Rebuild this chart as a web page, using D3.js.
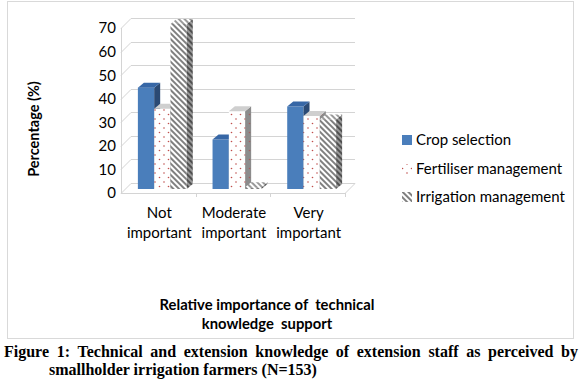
<!DOCTYPE html>
<html>
<head>
<meta charset="utf-8">
<script src="https://cdn.jsdelivr.net/npm/d3@7"></script>
<style>
  html, body { margin: 0; padding: 0; background: #fff; }
  svg { display: block; }
</style>
</head>
<body>
<svg id="chart" width="580" height="389"></svg>
<script>
// ---- data ----
const categories = ["Not important", "Moderate important", "Very important"];
const categoryLines = [["Not", "important"], ["Moderate", "important"], ["Very", "important"]];
const seriesNames = ["Crop selection", "Fertiliser management", "Irrigation management"];
const cropSelection = [43, 21, 35];
const fertiliserManagement = [34, 33, 31];
const irrigationManagement = [70, 0.7, 29.5];
const yTicks = [0, 10, 20, 30, 40, 50, 60, 70];
const yTitle = "Percentage (%)";
const xTitleLines = ["Relative importance of  technical", "knowledge  support"];
const captionLine1 = "Figure 1: Technical and extension knowledge of extension staff as perceived by";
const captionLine2 = "smallholder irrigation farmers (N=153)";

const seriesValues = [cropSelection, fertiliserManagement, irrigationManagement];

const svg = d3.select("#chart");
const FONT = "Lato, 'Open Sans', sans-serif";

// ---- defs: patterns ----
const defs = svg.append("defs");
function dotPattern(id, bg, dot) {
  const p = defs.append("pattern").attr("id", id).attr("patternUnits", "userSpaceOnUse")
    .attr("width", 9).attr("height", 9);
  p.append("rect").attr("width", 9).attr("height", 9).attr("fill", bg);
  p.append("circle").attr("cx", 2).attr("cy", 2).attr("r", 0.8).attr("fill", dot);
  p.append("circle").attr("cx", 6.5).attr("cy", 6.5).attr("r", 0.8).attr("fill", dot);
}
function hatchPattern(id, bg, line) {
  const p = defs.append("pattern").attr("id", id).attr("patternUnits", "userSpaceOnUse")
    .attr("width", 4).attr("height", 4).attr("patternTransform", "rotate(-45)");
  p.append("rect").attr("width", 4).attr("height", 4).attr("fill", bg);
  p.append("rect").attr("width", 2).attr("height", 4).attr("fill", line);
}
dotPattern("dotsFront", "#ffffff", "#c0504d");
dotPattern("dotsSide", "#8c8c8c", "#a86060");
hatchPattern("hatchFront", "#ffffff", "#808080");
hatchPattern("hatchSide", "#9a9a9a", "#505050");
hatchPattern("hatchTop", "#ffffff", "#9a9a9a");

const styles = [
  { front: "#4a7ebb", side: "#2b4a74", top: "#3767a6" },
  { front: "url(#dotsFront)", side: "url(#dotsSide)", top: "#cfcfcf" },
  { front: "url(#hatchFront)", side: "url(#hatchSide)", top: "url(#hatchTop)" }
];

// ---- chart border ----
svg.append("rect").attr("x", 7.5).attr("y", 1.5).attr("width", 566).attr("height", 337)
  .attr("fill", "#fff").attr("stroke", "#d9d9d9").attr("stroke-width", 1);

// ---- scales ----
const x = d3.scaleBand().domain(categories).range([121, 345]).paddingInner(0).paddingOuter(0);
const bw = x.bandwidth();
const groupW = bw * 0.655;
const xs = d3.scaleBand().domain(seriesNames).range([(bw - groupW) / 2, (bw + groupW) / 2]).padding(0);
const y = d3.scaleLinear().domain([0, 70]).range([193, 28]);

// 3D offsets
const WDX = 10, WDY = -10;   // wall depth
const FDX = 4, FDY = -4;     // bar front face offset
const BDX = 6, BDY = -5;     // bar depth

const grid = svg.append("g").attr("stroke", "#d4d4d4").attr("stroke-width", 1).attr("fill", "none");
const [x0, x1] = x.range();
yTicks.forEach(t => {
  const yy = Math.round(y(t)) + 0.5;
  grid.append("line").attr("x1", x0 + WDX).attr("x2", x1 + WDX).attr("y1", yy + WDY).attr("y2", yy + WDY);
  grid.append("line").attr("x1", x0).attr("x2", x0 + WDX).attr("y1", yy).attr("y2", yy + WDY);
});
// left front edge & floor
grid.append("line").attr("x1", x0 + 0.5).attr("x2", x0 + 0.5).attr("y1", y(70)).attr("y2", y(0));
grid.append("line").attr("x1", x0).attr("x2", x1).attr("y1", y(0) + 0.5).attr("y2", y(0) + 0.5);
grid.append("line").attr("x1", x1).attr("x2", x1 + WDX).attr("y1", y(0) + 0.5).attr("y2", y(0) + 0.5 + WDY);
categories.forEach((c, i) => {
  if (i === 0) return;
  const xx = Math.round(x(c)) + 0.5;
  grid.append("line").attr("x1", xx).attr("x2", xx).attr("y1", y(0)).attr("y2", y(0) + 4);
});
grid.append("line").attr("x1", Math.round(x1) + 0.5).attr("x2", Math.round(x1) + 0.5).attr("y1", y(0)).attr("y2", y(0) + 4);

// ---- y tick labels ----
svg.append("g").selectAll("text").data(yTicks).join("text")
  .attr("x", 116).attr("y", d => y(d)).attr("dy", "0.36em")
  .attr("text-anchor", "end").attr("font-family", FONT).attr("font-size", 15).attr("fill", "#000")
  .text(d => d);

// ---- bars ----
const bars = svg.append("g");
categories.forEach((c, ci) => {
  seriesNames.forEach((s, si) => {
    const v = seriesValues[si][ci];
    const st = styles[si];
    const bx0 = x(c) + xs(s) + FDX;
    const bx1 = bx0 + xs.bandwidth();
    const yt = y(v) + FDY;
    const yb = y(0) + FDY;
    const g = bars.append("g");
    g.append("rect").attr("x", bx0).attr("y", yt).attr("width", bx1 - bx0).attr("height", Math.max(0, yb - yt))
      .attr("fill", st.front);
    g.append("path").attr("d", `M${bx1},${yt}L${bx1 + BDX},${yt + BDY}L${bx1 + BDX},${yb + BDY}L${bx1},${yb}Z`)
      .attr("fill", st.side);
    g.append("path").attr("d", `M${bx0},${yt}L${bx1},${yt}L${bx1 + BDX},${yt + BDY}L${bx0 + BDX},${yt + BDY}Z`)
      .attr("fill", st.top);
  });
});

// ---- category labels ----
const catG = svg.append("g").attr("font-family", FONT).attr("font-size", 15).attr("fill", "#000").attr("text-anchor", "middle");
categories.forEach((c, i) => {
  categoryLines[i].forEach((ln, li) => {
    catG.append("text").attr("x", x(c) + bw / 2 + 1).attr("y", 218 + li * 20).text(ln);
  });
});

// ---- y title ----
svg.append("text").attr("transform", "translate(39,129) rotate(-90)")
  .attr("text-anchor", "middle").attr("font-family", FONT).attr("font-weight", "bold")
  .attr("font-size", 14.5).text(yTitle);

// ---- x title ----
const xt = svg.append("g").attr("font-family", FONT).attr("font-weight", "bold").attr("font-size", 14.8)
  .attr("text-anchor", "middle");
xTitleLines.forEach((ln, i) => {
  xt.append("text").attr("x", 267).attr("y", 310 + i * 19).attr("xml:space", "preserve").text(ln);
});

// ---- legend ----
const leg = svg.append("g").attr("font-family", FONT).attr("font-size", 15);
const legY = [140, 169, 197];
seriesNames.forEach((s, i) => {
  const cy = legY[i];
  if (i === 0) leg.append("rect").attr("x", 402).attr("y", cy - 5).attr("width", 10).attr("height", 10).attr("fill", "#4a7ebb");
  if (i === 1) leg.append("rect").attr("x", 402).attr("y", cy - 5).attr("width", 10).attr("height", 10).attr("fill", "url(#dotsFront)");
  if (i === 2) leg.append("rect").attr("x", 402).attr("y", cy - 5).attr("width", 10).attr("height", 10).attr("fill", "url(#hatchFront)");
  leg.append("text").attr("x", 416).attr("y", cy).attr("dy", "0.35em").text(s);
});

// ---- caption (justified first line) ----
const cap = svg.append("g")
  .attr("font-family", "'Liberation Serif', 'Times New Roman', serif")
  .attr("font-weight", "bold").attr("font-size", 16).attr("fill", "#000");
const words = captionLine1.split(" ");
const wNodes = words.map(w => cap.append("text").attr("y", 357).text(w));
const widths = wNodes.map(n => n.node().getComputedTextLength());
const startX = 4, endX = 578;
const gap = (endX - startX - d3.sum(widths)) / (words.length - 1);
let cx = startX;
wNodes.forEach((n, i) => { n.attr("x", cx); cx += widths[i] + gap; });
cap.append("text").attr("x", 49).attr("y", 375).text(captionLine2);
</script>
</body>
</html>
